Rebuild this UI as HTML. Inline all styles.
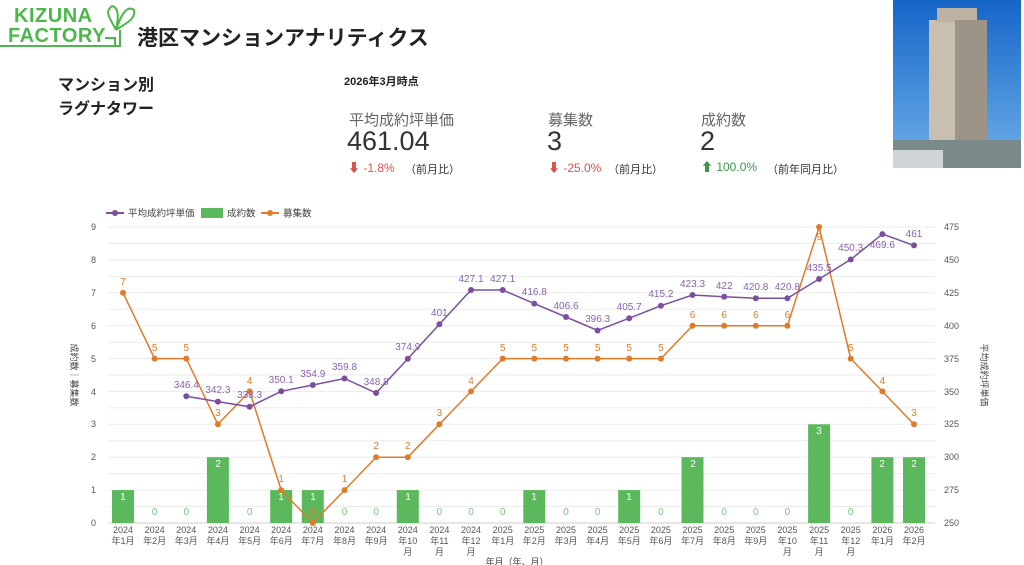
<!DOCTYPE html>
<html><head><meta charset="utf-8"><style>
body{margin:0;width:1024px;height:565px;background:#fff;overflow:hidden;font-family:"Liberation Sans","Noto Sans CJK JP",sans-serif;position:relative}
.a{position:absolute;white-space:nowrap}
</style></head><body>
<div class="a" style="left:8px;top:6px;color:#4cb84c;font-weight:bold;font-size:20px;line-height:20px;letter-spacing:0.5px">&nbsp;KIZUNA<br>FACTORY</div>
<svg class="a" style="left:0;top:0" width="140" height="50"><path d="M0 46 H120 V30 M105 38 h10 v8" stroke="#4cb84c" stroke-width="2" fill="none"/><path d="M116 30 C110 18 104 12 112 6 C120 8 118 20 116 30 C120 18 126 4 134 10 C136 20 124 24 116 30" stroke="#4cb84c" stroke-width="2" fill="none"/></svg>
<div class="a" style="left:137px;top:22px;font-size:21px;font-weight:bold;color:#222">港区マンションアナリティクス</div>
<div class="a" style="left:58px;top:74px;font-size:16px;font-weight:bold;color:#222;line-height:24px">マンション別<br>ラグナタワー</div>
<div class="a" style="left:344px;top:73px;font-size:11px;font-weight:bold;color:#222">2026年3月時点</div>
<div class="a" style="left:349px;top:109px;font-size:15px;color:#666">平均成約坪単価</div>
<div class="a" style="left:347px;top:126px;font-size:27px;color:#333">461.04</div>
<div class="a" style="left:348px;top:159px;font-size:12px;color:#d9534f">⬇ -1.8%</div>
<div class="a" style="left:405px;top:161px;font-size:11px;color:#333">（前月比）</div>
<div class="a" style="left:548px;top:109px;font-size:15px;color:#666">募集数</div>
<div class="a" style="left:547px;top:126px;font-size:27px;color:#333">3</div>
<div class="a" style="left:548px;top:159px;font-size:12px;color:#d9534f">⬇ -25.0%</div>
<div class="a" style="left:608px;top:161px;font-size:11px;color:#333">（前月比）</div>
<div class="a" style="left:701px;top:109px;font-size:15px;color:#666">成約数</div>
<div class="a" style="left:700px;top:126px;font-size:27px;color:#333">2</div>
<div class="a" style="left:701px;top:158px;font-size:12px;color:#3a9a4a">⬆ 100.0%</div>
<div class="a" style="left:767px;top:161px;font-size:11px;color:#333">（前年同月比）</div>
<svg class="a" style="left:893px;top:0" width="128" height="168">
<defs><linearGradient id="sky" x1="0" y1="0" x2="0" y2="1"><stop offset="0" stop-color="#1565c8"/><stop offset="1" stop-color="#6fb0ea"/></linearGradient></defs>
<rect width="128" height="168" fill="url(#sky)"/>
<rect x="36" y="20" width="58" height="148" fill="#c9bfb0"/><rect x="44" y="8" width="40" height="14" fill="#bdb2a2"/>
<rect x="62" y="20" width="32" height="148" fill="#9c9486"/>
<rect x="0" y="140" width="128" height="28" fill="#7a8a8a"/><rect x="0" y="150" width="50" height="18" fill="#cfd4d6"/>
</svg>
<svg class="a" style="left:0;top:0" width="1024" height="565" font-family="Liberation Sans,Noto Sans CJK JP,sans-serif">
<g stroke="#ebebeb" stroke-width="1">
<line x1="108" x2="935" y1="227" y2="227"/><line x1="108" x2="935" y1="243.5" y2="243.5"/><line x1="108" x2="935" y1="260" y2="260"/><line x1="108" x2="935" y1="276.4" y2="276.4"/><line x1="108" x2="935" y1="292.8" y2="292.8"/><line x1="108" x2="935" y1="309.3" y2="309.3"/><line x1="108" x2="935" y1="325.7" y2="325.7"/><line x1="108" x2="935" y1="342.2" y2="342.2"/><line x1="108" x2="935" y1="358.6" y2="358.6"/><line x1="108" x2="935" y1="375" y2="375"/><line x1="108" x2="935" y1="391.4" y2="391.4"/><line x1="108" x2="935" y1="407.9" y2="407.9"/><line x1="108" x2="935" y1="424.3" y2="424.3"/><line x1="108" x2="935" y1="440.8" y2="440.8"/><line x1="108" x2="935" y1="457.2" y2="457.2"/><line x1="108" x2="935" y1="473.6" y2="473.6"/><line x1="108" x2="935" y1="490.1" y2="490.1"/><line x1="108" x2="935" y1="506.5" y2="506.5"/>
</g>
<line x1="108" x2="935" y1="523" y2="523" stroke="#ccc"/>
<g font-size="9" fill="#555" text-anchor="end">
<text x="96" y="230">9</text><text x="96" y="263">8</text><text x="96" y="296">7</text><text x="96" y="329">6</text><text x="96" y="362">5</text><text x="96" y="395">4</text><text x="96" y="427">3</text><text x="96" y="460">2</text><text x="96" y="493">1</text><text x="96" y="526">0</text>
</g>
<g font-size="9" fill="#555">
<text x="944" y="230">475</text><text x="944" y="263">450</text><text x="944" y="296">425</text><text x="944" y="329">400</text><text x="944" y="362">375</text><text x="944" y="395">350</text><text x="944" y="427">325</text><text x="944" y="460">300</text><text x="944" y="493">275</text><text x="944" y="526">250</text>
</g>
<text transform="translate(71,375) rotate(90)" font-size="9" fill="#444" text-anchor="middle">成約数｜募集数</text>
<text transform="translate(981,375) rotate(90)" font-size="9" fill="#444" text-anchor="middle">平均成約坪単価</text>
<!-- legend -->
<line x1="106" x2="124" y1="213" y2="213" stroke="#7b4f9e" stroke-width="2"/><circle cx="115" cy="213" r="3" fill="#7b4f9e"/>
<text x="128" y="216.5" font-size="9.5" fill="#444">平均成約坪単価</text>
<rect x="201" y="208" width="22" height="10" fill="#5cb85c"/>
<text x="227" y="216.5" font-size="9.5" fill="#444">成約数</text>
<line x1="261" x2="279" y1="213" y2="213" stroke="#e07b2a" stroke-width="2"/><circle cx="270" cy="213" r="3" fill="#e07b2a"/>
<text x="283" y="216.5" font-size="9.5" fill="#444">募集数</text>
<!-- bars -->
<g fill="#5cb85c">
<rect x="112" y="490.1" width="22" height="32.9"/><rect x="206.9" y="457.2" width="22" height="65.8"/><rect x="270.2" y="490.1" width="22" height="32.9"/><rect x="301.8" y="490.1" width="22" height="32.9"/><rect x="396.8" y="490.1" width="22" height="32.9"/><rect x="523.3" y="490.1" width="22" height="32.9"/><rect x="618.2" y="490.1" width="22" height="32.9"/><rect x="681.5" y="457.2" width="22" height="65.8"/><rect x="808.1" y="424.3" width="22" height="98.7"/><rect x="871.4" y="457.2" width="22" height="65.8"/><rect x="903" y="457.2" width="22" height="65.8"/>
</g>
<g font-size="10" fill="#fff" text-anchor="middle">
<text x="123" y="500">1</text><text x="218" y="467">2</text><text x="281" y="500">1</text><text x="313" y="500">1</text><text x="408" y="500">1</text><text x="534" y="500">1</text><text x="629" y="500">1</text><text x="693" y="467">2</text><text x="819" y="434">3</text><text x="882" y="467">2</text><text x="914" y="467">2</text>
</g>
<g font-size="10" fill="#7cc47c" text-anchor="middle">
<text x="154.6" y="515">0</text><text x="186.3" y="515">0</text><text x="249.6" y="515">0</text><text x="344.5" y="515">0</text><text x="376.1" y="515">0</text><text x="439.4" y="515">0</text><text x="471" y="515">0</text><text x="502.7" y="515">0</text><text x="566" y="515">0</text><text x="597.6" y="515">0</text><text x="660.9" y="515">0</text><text x="724.2" y="515">0</text><text x="755.8" y="515">0</text><text x="787.4" y="515">0</text><text x="850.7" y="515">0</text>
</g>
<!-- recruit line -->
<polyline fill="none" stroke="#e07b2a" stroke-width="1.5" points="123,292.8 154.6,358.6 186.3,358.6 217.9,424.3 249.6,391.4 281.2,490.1 312.8,523 344.5,490.1 376.1,457.2 407.8,457.2 439.4,424.3 471,391.4 502.7,358.6 534.3,358.6 566,358.6 597.6,358.6 629.2,358.6 660.9,358.6 692.5,325.7 724.2,325.7 755.8,325.7 787.4,325.7 819.1,227 850.7,358.6 882.4,391.4 914,424.3"/>
<g fill="#e07b2a">
<circle cx="123" cy="292.8" r="3"/><circle cx="154.6" cy="358.6" r="3"/><circle cx="186.3" cy="358.6" r="3"/><circle cx="217.9" cy="424.3" r="3"/><circle cx="249.6" cy="391.4" r="3"/><circle cx="281.2" cy="490.1" r="3"/><circle cx="312.8" cy="523" r="3"/><circle cx="344.5" cy="490.1" r="3"/><circle cx="376.1" cy="457.2" r="3"/><circle cx="407.8" cy="457.2" r="3"/><circle cx="439.4" cy="424.3" r="3"/><circle cx="471" cy="391.4" r="3"/><circle cx="502.7" cy="358.6" r="3"/><circle cx="534.3" cy="358.6" r="3"/><circle cx="566" cy="358.6" r="3"/><circle cx="597.6" cy="358.6" r="3"/><circle cx="629.2" cy="358.6" r="3"/><circle cx="660.9" cy="358.6" r="3"/><circle cx="692.5" cy="325.7" r="3"/><circle cx="724.2" cy="325.7" r="3"/><circle cx="755.8" cy="325.7" r="3"/><circle cx="787.4" cy="325.7" r="3"/><circle cx="819.1" cy="227" r="3"/><circle cx="850.7" cy="358.6" r="3"/><circle cx="882.4" cy="391.4" r="3"/><circle cx="914" cy="424.3" r="3"/>
</g>
<g font-size="10" fill="#e07b2a" text-anchor="middle">
<text x="123" y="285">7</text><text x="154.6" y="351">5</text><text x="186.3" y="351">5</text><text x="217.9" y="416">3</text><text x="249.6" y="384">4</text><text x="281.2" y="482">1</text><text x="312.8" y="515">0</text><text x="344.5" y="482">1</text><text x="376.1" y="449">2</text><text x="407.8" y="449">2</text><text x="439.4" y="416">3</text><text x="471" y="384">4</text><text x="502.7" y="351">5</text><text x="534.3" y="351">5</text><text x="566" y="351">5</text><text x="597.6" y="351">5</text><text x="629.2" y="351">5</text><text x="660.9" y="351">5</text><text x="692.5" y="318">6</text><text x="724.2" y="318">6</text><text x="755.8" y="318">6</text><text x="787.4" y="318">6</text><text x="819.1" y="240">9</text><text x="850.7" y="351">5</text><text x="882.4" y="384">4</text><text x="914" y="416">3</text>
</g>
<!-- price line -->
<polyline fill="none" stroke="#7b4f9e" stroke-width="1.5" points="186.3,396.2 217.9,401.6 249.6,406.8 281.2,391.3 312.8,385 344.5,378.5 376.1,393 407.8,358.7 439.4,324.3 471,290 502.7,290 534.3,303.6 566,317 597.6,330.5 629.2,318.2 660.9,305.7 692.5,295 724.2,296.7 755.8,298.3 787.4,298.3 819.1,279 850.7,259.5 882.4,234.1 914,245.4"/>
<g fill="#7b4f9e">
<circle cx="186.3" cy="396.2" r="3"/><circle cx="217.9" cy="401.6" r="3"/><circle cx="249.6" cy="406.8" r="3"/><circle cx="281.2" cy="391.3" r="3"/><circle cx="312.8" cy="385" r="3"/><circle cx="344.5" cy="378.5" r="3"/><circle cx="376.1" cy="393" r="3"/><circle cx="407.8" cy="358.7" r="3"/><circle cx="439.4" cy="324.3" r="3"/><circle cx="471" cy="290" r="3"/><circle cx="502.7" cy="290" r="3"/><circle cx="534.3" cy="303.6" r="3"/><circle cx="566" cy="317" r="3"/><circle cx="597.6" cy="330.5" r="3"/><circle cx="629.2" cy="318.2" r="3"/><circle cx="660.9" cy="305.7" r="3"/><circle cx="692.5" cy="295" r="3"/><circle cx="724.2" cy="296.7" r="3"/><circle cx="755.8" cy="298.3" r="3"/><circle cx="787.4" cy="298.3" r="3"/><circle cx="819.1" cy="279" r="3"/><circle cx="850.7" cy="259.5" r="3"/><circle cx="882.4" cy="234.1" r="3"/><circle cx="914" cy="245.4" r="3"/>
</g>
<g font-size="10" fill="#8a62b0" text-anchor="middle">
<text x="186.3" y="388">346.4</text><text x="217.9" y="393">342.3</text><text x="249.6" y="398">338.3</text><text x="281.2" y="383">350.1</text><text x="312.8" y="377">354.9</text><text x="344.5" y="370">359.8</text><text x="376.1" y="385">348.8</text><text x="407.8" y="350">374.9</text><text x="439.4" y="316">401</text><text x="471" y="282">427.1</text><text x="502.7" y="282">427.1</text><text x="534.3" y="295">416.8</text><text x="566" y="309">406.6</text><text x="597.6" y="322">396.3</text><text x="629.2" y="310">405.7</text><text x="660.9" y="297">415.2</text><text x="692.5" y="287">423.3</text><text x="724.2" y="289">422</text><text x="755.8" y="290">420.8</text><text x="787.4" y="290">420.8</text><text x="819.1" y="271">435.5</text><text x="850.7" y="251">450.3</text><text x="882.4" y="248">469.6</text><text x="914" y="237">461</text>
</g>
<!-- x labels -->
<g font-size="9" fill="#555" text-anchor="middle">
<text x="123" y="533">2024</text><text x="123" y="544">年1月</text>
<text x="154.6" y="533">2024</text><text x="154.6" y="544">年2月</text>
<text x="186.3" y="533">2024</text><text x="186.3" y="544">年3月</text>
<text x="217.9" y="533">2024</text><text x="217.9" y="544">年4月</text>
<text x="249.6" y="533">2024</text><text x="249.6" y="544">年5月</text>
<text x="281.2" y="533">2024</text><text x="281.2" y="544">年6月</text>
<text x="312.8" y="533">2024</text><text x="312.8" y="544">年7月</text>
<text x="344.5" y="533">2024</text><text x="344.5" y="544">年8月</text>
<text x="376.1" y="533">2024</text><text x="376.1" y="544">年9月</text>
<text x="407.8" y="533">2024</text><text x="407.8" y="544">年10</text><text x="407.8" y="555">月</text>
<text x="439.4" y="533">2024</text><text x="439.4" y="544">年11</text><text x="439.4" y="555">月</text>
<text x="471" y="533">2024</text><text x="471" y="544">年12</text><text x="471" y="555">月</text>
<text x="502.7" y="533">2025</text><text x="502.7" y="544">年1月</text>
<text x="534.3" y="533">2025</text><text x="534.3" y="544">年2月</text>
<text x="566" y="533">2025</text><text x="566" y="544">年3月</text>
<text x="597.6" y="533">2025</text><text x="597.6" y="544">年4月</text>
<text x="629.2" y="533">2025</text><text x="629.2" y="544">年5月</text>
<text x="660.9" y="533">2025</text><text x="660.9" y="544">年6月</text>
<text x="692.5" y="533">2025</text><text x="692.5" y="544">年7月</text>
<text x="724.2" y="533">2025</text><text x="724.2" y="544">年8月</text>
<text x="755.8" y="533">2025</text><text x="755.8" y="544">年9月</text>
<text x="787.4" y="533">2025</text><text x="787.4" y="544">年10</text><text x="787.4" y="555">月</text>
<text x="819.1" y="533">2025</text><text x="819.1" y="544">年11</text><text x="819.1" y="555">月</text>
<text x="850.7" y="533">2025</text><text x="850.7" y="544">年12</text><text x="850.7" y="555">月</text>
<text x="882.4" y="533">2026</text><text x="882.4" y="544">年1月</text>
<text x="914" y="533">2026</text><text x="914" y="544">年2月</text>
</g>
<text x="517" y="565" font-size="9" fill="#444" text-anchor="middle">年月（年、月）</text>
</svg>
</body></html>
